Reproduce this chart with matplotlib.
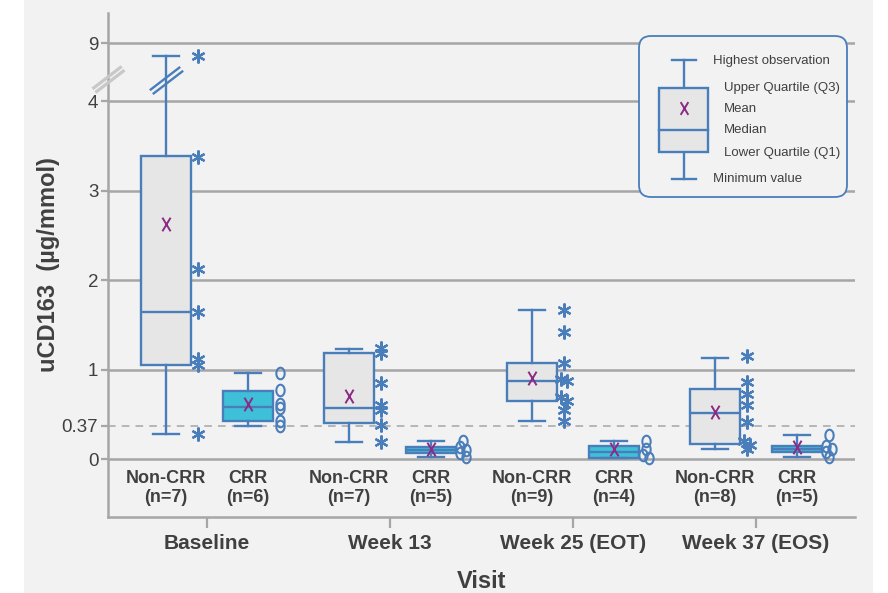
import numpy as np
import matplotlib
matplotlib.use("Agg")
import matplotlib.pyplot as plt
from matplotlib.path import Path
from matplotlib.patches import FancyBboxPatch, Rectangle
from matplotlib.transforms import blended_transform_factory

plt.rcParams['font.family'] = ['Liberation Sans', 'DejaVu Sans']

# ---- data -------------------------------------------------------------
visits = ["Baseline", "Week 13", "Week 25 (EOT)", "Week 37 (EOS)"]
groups = ["Non-CRR", "CRR"]
n_counts = [7, 6, 7, 5, 9, 4, 8, 5]          # visit-major, Non-CRR then CRR

box_min = [0.28, 0.37, 0.19, 0.02, 0.43, 0.015, 0.11, 0.02]
box_q1 = [1.05, 0.42, 0.40, 0.064, 0.65, 0.015, 0.17, 0.075]
box_med = [1.64, 0.585, 0.57, 0.10, 0.87, 0.078, 0.51, 0.11]
box_q3 = [3.39, 0.765, 1.19, 0.137, 1.07, 0.145, 0.785, 0.145]
box_max = [7.9, 0.965, 1.225, 0.20, 1.67, 0.20, 1.13, 0.27]
box_mean = [2.63, 0.62, 0.70, 0.11, 0.91, 0.115, 0.52, 0.13]

observations = [
    [7.9, 3.38, 2.12, 1.64, 1.12, 1.05, 0.28],
    [0.96, 0.77, 0.62, 0.57, 0.43, 0.37],
    [1.24, 1.18, 0.85, 0.60, 0.55, 0.38, 0.19],
    [0.20, 0.137, 0.10, 0.064, 0.02],
    [1.67, 1.42, 1.07, 0.89, 0.87, 0.69, 0.65, 0.55, 0.43],
    [0.20, 0.11, 0.05, 0.015],
    [1.15, 0.86, 0.73, 0.60, 0.41, 0.20, 0.16, 0.11],
    [0.27, 0.14, 0.11, 0.075, 0.02],
]

y_ticks = [0, 0.37, 1, 2, 3, 4, 9]
y_tick_labels = ["0", "0.37", "1", "2", "3", "4", "9"]
threshold = 0.37

# ---- style ------------------------------------------------------------
BG = "#f2f2f2"
BLUE = "#4a7ebb"
GRID = "#a6a6a6"
TXT = "#404040"
NONCRR_FILL = "#e6e6e6"
CRR_FILL = "#3ec0d8"
MEAN_C = "#8c2a84"

# broken axis: values above 4 are compressed
K = 0.1296


def fwd(v):
    v = np.asarray(v, dtype=float)
    return np.where(v <= 4, v, 4 + (v - 4) * K)


def inv(d):
    d = np.asarray(d, dtype=float)
    return np.where(d <= 4, d, 4 + (d - 4) / K)


# custom marker shapes
t = np.linspace(0, 2 * np.pi, 64)
ellipse = Path(np.column_stack([0.72 * np.cos(t), np.sin(t)]), closed=True)
xmark = Path([(-0.6, -1), (0.6, 1), (-0.6, 1), (0.6, -1)],
             [Path.MOVETO, Path.LINETO, Path.MOVETO, Path.LINETO])
_d = np.array([30.0, 23.0]) / np.hypot(30, 23)
_p = np.array([-_d[1], _d[0]]) * 2.4
_h = np.array([15.0, 11.5])
break_mark = Path([tuple(_p - _h), tuple(_p + _h), tuple(-_p - _h), tuple(-_p + _h)],
                  [Path.MOVETO, Path.LINETO, Path.MOVETO, Path.LINETO])
asterisk = (6, 2, 0)


def dodge(values, thresh=0.045, step=0.018):
    vals = list(values)
    offs = [0.0] * len(vals)
    i = 0
    while i < len(vals):
        j = i
        while j + 1 < len(vals) and abs(vals[j] - vals[j + 1]) < thresh:
            j += 1
        if j > i:
            for k, idx in enumerate(range(i, j + 1)):
                offs[idx] = -step if k % 2 == 0 else step
        i = j + 1
    return offs


# ---- figure -----------------------------------------------------------
W, H = 888, 593
fig = plt.figure(figsize=(W / 100, H / 100), dpi=100)
fig.patch.set_facecolor("white")
fig.add_artist(Rectangle((24 / W, 0), (873 - 24) / W, 1, transform=fig.transFigure,
                         facecolor=BG, edgecolor="none", zorder=-10))

ax = fig.add_axes([108 / W, 1 - 517 / H, (855 - 108) / W, (517 - 13) / H])
ax.set_facecolor("none")
ax.set_yscale("function", functions=(fwd, inv))

centers = np.arange(len(visits))
half_gap = 0.224
positions = []
for c in centers:
    positions += [c - half_gap, c + half_gap]
positions = np.array(positions)

stats = []
for i in range(len(positions)):
    stats.append(dict(med=box_med[i], q1=box_q1[i], q3=box_q3[i],
                      whislo=box_min[i], whishi=box_max[i], fliers=[]))

lw = 1.7
bp = ax.bxp(stats, positions=positions, widths=0.268, capwidths=0.137,
            patch_artist=True, showfliers=False,
            boxprops=dict(edgecolor=BLUE, linewidth=lw),
            whiskerprops=dict(color=BLUE, linewidth=lw),
            capprops=dict(color=BLUE, linewidth=lw),
            medianprops=dict(color=BLUE, linewidth=lw),
            manage_ticks=False, zorder=3)
for i, box in enumerate(bp["boxes"]):
    box.set_facecolor(NONCRR_FILL if i % 2 == 0 else CRR_FILL)

# means
ax.plot(positions, box_mean, ls="none", marker=xmark, ms=9.8, mec=MEAN_C,
        mfc="none", mew=1.4, zorder=4)

# individual observations
for i, vals in enumerate(observations):
    offs = np.array(dodge(vals))
    xs = positions[i] + 0.175 + offs
    if i % 2 == 0:
        ax.plot(xs, vals, ls="none", marker=asterisk, ms=10, mec=BLUE,
                mew=1.6, zorder=4, clip_on=False)
    else:
        ax.plot(xs, vals, ls="none", marker=ellipse, ms=8.3, mec=BLUE,
                mfc="none", mew=1.5, zorder=4, clip_on=False)

# break marks on the long whisker and on the y axis
ax.plot([positions[0]], [5.8], ls="none", marker=break_mark, ms=24,
        mec=BLUE, mfc="none", mew=1.7, zorder=5)
ax.plot([0], [5.9], ls="none", marker=break_mark, ms=23, mec="#c8c8c8",
        mfc="none", mew=2.3, zorder=5, clip_on=False,
        transform=blended_transform_factory(ax.transAxes, ax.transData))

# gridlines
for v in y_ticks:
    if v == threshold:
        ax.axhline(v, color=GRID, lw=1.1, ls=(0, (5, 4)), zorder=1)
    else:
        ax.axhline(v, color=GRID, lw=1.8, zorder=1)

ax.set_xlim(-0.541, 3.541)
ax.set_ylim(-0.648, 11.59)

ax.set_yticks(y_ticks)
ax.set_yticklabels(y_tick_labels)
ax.set_xticks(centers)
ax.set_xticklabels(visits, fontweight="bold", fontsize=15, color=TXT)
ax.tick_params(axis="y", length=5, width=1.6, color=GRID, labelsize=13.5,
               labelcolor=TXT, pad=2)
ax.tick_params(axis="x", length=8, width=1.6, color=GRID, pad=4)
ax.minorticks_off()

for s in ("top", "right"):
    ax.spines[s].set_visible(False)
for s in ("left", "bottom"):
    ax.spines[s].set_color(GRID)
    ax.spines[s].set_linewidth(1.8)

# category labels under each box
for i, p in enumerate(positions):
    ax.text(p, -0.125, f"{groups[i % 2]}\n(n={n_counts[i]})", ha="center",
            va="top", fontsize=13, fontweight="bold", color=TXT,
            linespacing=1.12)

ax.set_xlabel("Visit", fontsize=17, fontweight="bold", color=TXT)
ax.xaxis.set_label_coords(0.5, -0.106)
ax.set_ylabel("uCD163  (\u00b5g/mmol)", fontsize=17, fontweight="bold", color=TXT)
ax.yaxis.set_label_coords(-0.064, 0.5)

# ---- key explaining the box elements ------------------------------------
lg = fig.add_axes([630 / W, 1 - 205 / H, 225 / W, 175 / H])
lg.set_xlim(630, 855)
lg.set_ylim(205, 30)
lg.axis("off")
lg.add_patch(FancyBboxPatch((639, 36), 208, 161,
                            boxstyle="round,pad=0,rounding_size=12",
                            facecolor=BG, edgecolor=BLUE, linewidth=1.3))
bx, bw = 683.5, 49
lg.add_patch(Rectangle((bx - bw / 2, 88), bw, 64, facecolor=NONCRR_FILL,
                       edgecolor=BLUE, linewidth=lw, zorder=3))
lg.plot([bx - bw / 2, bx + bw / 2], [130, 130], color=BLUE, lw=lw, zorder=4)
lg.plot([bx, bx], [60, 88], color=BLUE, lw=lw)
lg.plot([bx, bx], [152, 179], color=BLUE, lw=lw)
lg.plot([bx - 12, bx + 12], [60, 60], color=BLUE, lw=lw)
lg.plot([bx - 12, bx + 12], [179, 179], color=BLUE, lw=lw)
lg.plot([bx], [108], marker=xmark, ms=9.2, mec=MEAN_C, mfc="none", mew=1.4,
        zorder=5)
key_items = [(713, 61, "Highest observation"), (724, 88, "Upper Quartile (Q3)"),
             (724, 109, "Mean"), (724, 130, "Median"),
             (724, 153, "Lower Quartile (Q1)"), (713, 179, "Minimum value")]
for x, y, s in key_items:
    lg.text(x, y, s, ha="left", va="center", fontsize=9.5, color=TXT)

fig.savefig("out.png", dpi=100, facecolor=fig.get_facecolor())
